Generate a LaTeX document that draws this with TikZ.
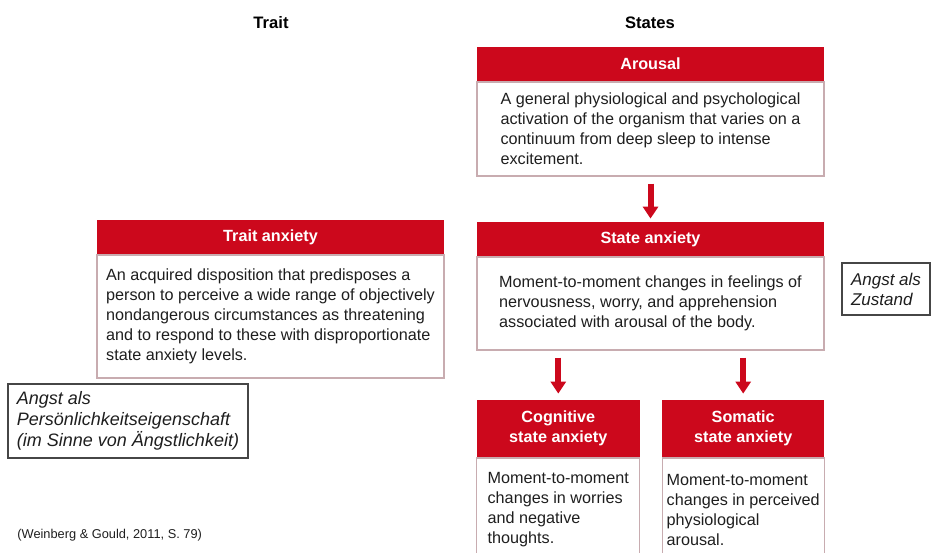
\documentclass[tikz,border=0pt]{standalone}
\usepackage{fontspec}
\setmainfont{Liberation Sans}
\usepackage{tikz}
\usetikzlibrary{positioning}
\usetikzlibrary{arrows.meta}

\definecolor{hdred}{RGB}{204,8,28}
\definecolor{boxline}{RGB}{200,172,176}
\definecolor{notegray}{RGB}{70,70,70}
\definecolor{txtgray}{RGB}{30,30,30}

\newcommand\txtfont{\fontsize{8.1}{10}\selectfont}
\newcommand\notefont{\fontsize{9}{10.5}\selectfont\itshape}

\begin{document}
\begin{tikzpicture}[x=0.5pt, y=-0.5pt,
            head/.style={fill=hdred, text=white, font=\txtfont\bfseries, align=center,
            inner sep=0pt, minimum width=173.5pt, minimum height=17pt},
            body/.style={draw=boxline, line width=0.6pt, text=txtgray, font=\txtfont, align=left,
            inner sep=0pt, minimum width=173.5pt},
            note/.style={draw=notegray, line width=0.6pt, text=txtgray, font=\notefont, align=left,
            inner sep=0pt},
            arr/.style={draw=hdred, line width=3pt, -{Triangle[width=7.5pt, length=6pt]}}]
        \useasboundingbox (0,0) rectangle (931,552);

        \node[font=\fontsize{8.3}{10}\selectfont\bfseries] (traittitle) at (271,23) {Trait};
        \node[font=\fontsize{8.3}{10}\selectfont\bfseries] (statetitle) at (650,23) {States};

        % states column
        \node[head] (aroushead) at (650.5,64) {Arousal};
        \node[body, minimum height=47pt] (arousbody) [below=0pt of aroushead]
            {A general physiological and psychological\\activation of the organism that varies on a\\continuum from deep sleep to intense\\excitement.};
        \node[head] (statehead) [below=22.5pt of arousbody] {State anxiety};
        \node[body, minimum height=46.5pt] (statebody) [below=0pt of statehead]
            {Moment-to-moment changes in feelings of\\nervousness, worry, and apprehension\\associated with arousal of the body.};
        \node[head, minimum width=81.5pt, minimum height=28.5pt] (coghead)
            [below=24.5pt of statebody.south west, anchor=north west] {Cognitive\\state anxiety};
        \node[body, minimum width=81.5pt, minimum height=52pt] (cogbody) [below=0pt of coghead]
            {Moment-to-moment\\changes in worries\\and negative\\thoughts.};
        \node[head, minimum width=81pt, minimum height=28.5pt] (somhead)
            [below=24.5pt of statebody.south east, anchor=north east] {Somatic\\state anxiety};
        \node[body, minimum width=81pt, minimum height=52pt] (sombody) [below=0pt of somhead]
            {Moment-to-moment\\changes in perceived\\physiological\\arousal.};

        % trait column
        \node[head] (traithead) at (270.5,237) {Trait anxiety};
        \node[body, minimum height=61.5pt] (traitbody) [below=0pt of traithead]
            {An acquired disposition that predisposes a\\person to perceive a wide range of objectively\\nondangerous circumstances as threatening\\and to respond to these with disproportionate\\state anxiety levels.};

        % notes
        \node[note, minimum width=120pt, minimum height=37pt] (persnote) at (128,421)
            {Angst als\\Persönlichkeitseigenschaft\\(im Sinne von Ängstlichkeit)};
        \node[note, minimum width=44pt, minimum height=26pt, font=\fontsize{8.5}{10}\selectfont\itshape]
            (zustnote) at (886,289) {Angst als\\Zustand};
        \node[anchor=west, inner sep=0pt, text=txtgray, font=\fontsize{6.4}{8}\selectfont] (source) at (17,535)
            {(Weinberg \& Gould, 2011, S. 79)};

        \draw[arr, shorten <=3.5pt, shorten >=1.5pt] (arousbody) -- (statehead);
        \draw[arr, shorten <=3.5pt, shorten >=3pt] (statebody.south -| coghead.north) -- (coghead.north);
        \draw[arr, shorten <=3.5pt, shorten >=3pt] (statebody.south -| somhead.north) -- (somhead.north);
    \end{tikzpicture}
\end{document}
